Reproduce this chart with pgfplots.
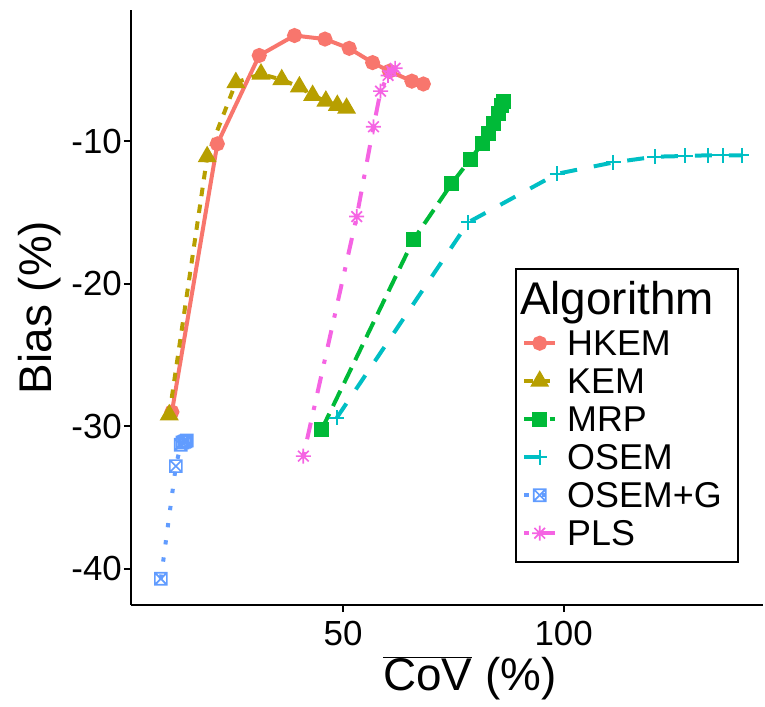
\documentclass[border=0pt]{standalone}
\usepackage{fontspec}
\setmainfont{Liberation Sans}
\usepackage{pgfplots}
\pgfplotsset{compat=1.18}
\usetikzlibrary{calc,plotmarks}

\definecolor{cHK}{HTML}{F8766D}
\definecolor{cKE}{HTML}{B79F00}
\definecolor{cMR}{HTML}{00BA38}
\definecolor{cOS}{HTML}{00BFC4}
\definecolor{cOG}{HTML}{619CFF}
\definecolor{cPL}{HTML}{F564E3}

% ggplot shape 7 (square with cross) and shape 8 (asterisk)
\pgfdeclareplotmark{sqx}{%
  \pgfpathrectangle{\pgfpoint{-\pgfplotmarksize}{-\pgfplotmarksize}}{\pgfpoint{2\pgfplotmarksize}{2\pgfplotmarksize}}%
  \pgfpathmoveto{\pgfpoint{-\pgfplotmarksize}{-\pgfplotmarksize}}\pgfpathlineto{\pgfpoint{\pgfplotmarksize}{\pgfplotmarksize}}%
  \pgfpathmoveto{\pgfpoint{-\pgfplotmarksize}{\pgfplotmarksize}}\pgfpathlineto{\pgfpoint{\pgfplotmarksize}{-\pgfplotmarksize}}%
  \pgfusepathqstroke}
\pgfdeclareplotmark{ast8}{%
  \pgfpathmoveto{\pgfpoint{-\pgfplotmarksize}{0pt}}\pgfpathlineto{\pgfpoint{\pgfplotmarksize}{0pt}}%
  \pgfpathmoveto{\pgfpoint{0pt}{-\pgfplotmarksize}}\pgfpathlineto{\pgfpoint{0pt}{\pgfplotmarksize}}%
  \pgfpathmoveto{\pgfpoint{-0.707\pgfplotmarksize}{-0.707\pgfplotmarksize}}\pgfpathlineto{\pgfpoint{0.707\pgfplotmarksize}{0.707\pgfplotmarksize}}%
  \pgfpathmoveto{\pgfpoint{-0.707\pgfplotmarksize}{0.707\pgfplotmarksize}}\pgfpathlineto{\pgfpoint{0.707\pgfplotmarksize}{-0.707\pgfplotmarksize}}%
  \pgfusepathqstroke}

\begin{document}
\begin{tikzpicture}
\begin{axis}[
    name=ax, at={(0,0)}, anchor=south west,
    scale only axis, width=632bp, height=595bp,
    xmin=1.93, xmax=145.2, ymin=-42.54, ymax=-0.81,
    axis x line*=bottom, axis y line*=left,
    axis line style={line width=1.8bp, black},
    xtick={50,100}, xticklabels={50,100},
    ytick={-40,-30,-20,-10}, yticklabels={-40,-30,-20,-10},
    tick align=outside, major tick length=7bp,
    tick style={line width=1.8bp, black},
    tick label style={font=\fontsize{35}{40}\selectfont, black, inner sep=2bp},
    xticklabel style={yshift=-7bp},
    xlabel={$\overline{\mbox{CoV}}$ (\%)},
    ylabel={Bias (\%)},
    label style={font=\fontsize{46}{52}\selectfont, inner sep=0bp},
    xlabel style={at={(rel axis cs:0.536,-0.086)}, anchor=north},
    ylabel style={at={(rel axis cs:-0.125,0.5)}, anchor=base},
    legend cell align=left,
    legend style={at={(rel axis cs:0.6187,0.4655)}, anchor=north west,
      draw=none, fill=none, inner sep=0bp, row sep=8bp, column sep=10bp,
      font=\fontsize{36}{40}\selectfont,
      nodes={inner sep=0bp, text height=27bp, text depth=3bp}},
    legend image code/.code={\draw[mark repeat=2,mark phase=2,#1] plot coordinates {(0bp,0bp) (15.5bp,0bp) (31bp,0bp)};},
    every axis plot/.append style={line width=4bp},
]
\addplot[cHK, solid, mark=*, mark size=5.5bp, mark options={solid}] coordinates {
  (11.2,-29.0) (21.5,-10.2) (31.0,-4.0) (39.0,-2.6) (45.9,-2.85) (51.4,-3.5)
  (56.7,-4.5) (60.5,-5.1) (65.6,-5.8) (68.2,-6.0)};
\addplot[cKE, dash pattern=on 8.5bp off 8.5bp, mark=triangle*, mark size=7bp, mark options={solid}] coordinates {
  (10.6,-29.2) (19.2,-11.1) (25.7,-5.9) (31.4,-5.3) (36.1,-5.7) (40.1,-6.2)
  (43.1,-6.8) (46.1,-7.2) (48.7,-7.5) (50.8,-7.7)};
\addplot[cMR, dash pattern=on 17bp off 8.5bp, mark=square*, mark size=5.5bp, mark options={solid}] coordinates {
  (45.2,-30.2) (66.0,-16.9) (74.6,-13.0) (78.8,-11.3) (81.5,-10.2) (83.0,-9.5)
  (84.1,-8.8) (85.2,-8.1) (86.0,-7.5) (86.4,-7.2)};
\addplot[cOS, dash pattern=on 17bp off 17bp, mark=+, mark size=7.5bp, mark options={solid, line width=2bp}] coordinates {
  (48.6,-29.4) (78.4,-15.7) (98.5,-12.3) (111.3,-11.5) (120.7,-11.1)
  (127.6,-11.05) (132.8,-11.0) (136.2,-11.0) (140.4,-11.0)};
\addplot[cOG, dash pattern=on 4.3bp off 13bp, mark=sqx, mark size=6bp, mark options={solid, line width=1.7bp}] coordinates {
  (8.7,-40.7) (12.1,-32.8) (13.2,-31.3) (13.6,-31.15) (14.0,-31.1) (14.3,-31.05) (14.6,-31.0)};
\addplot[cPL, dash pattern=on 4.3bp off 13bp on 17bp off 13bp, mark=ast8, mark size=7.5bp, mark options={solid, line width=1.7bp}] coordinates {
  (41.0,-32.1) (53.1,-15.3) (56.9,-9.0) (58.5,-6.5) (60.2,-5.4) (61.0,-5.1) (61.8,-4.9)};
\legend{HKEM, KEM, MRP, OSEM, OSEM+G, PLS}
\end{axis}
\draw[line width=2bp] (385bp,43bp) rectangle (607bp,336bp);
\node[anchor=base west, font=\fontsize{46}{52}\selectfont, inner sep=0bp] at (389bp,290bp) {Algorithm};
\pgfresetboundingbox
\path (-131bp,-102bp) rectangle (634bp,605bp);
\end{tikzpicture}
\end{document}
